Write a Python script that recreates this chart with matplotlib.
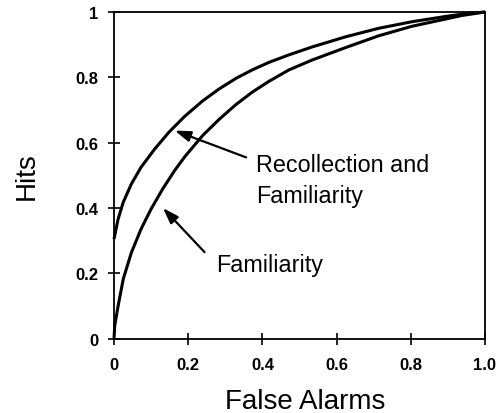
import matplotlib
matplotlib.use("Agg")
import matplotlib.pyplot as plt

plt.rcParams['font.family'] = ['Liberation Sans', 'DejaVu Sans']

# Familiarity only ROC
fam_x = [0, 0.002, 0.011, 0.025, 0.047, 0.073, 0.10, 0.131, 0.163, 0.19, 0.239,
         0.284, 0.329, 0.373, 0.418, 0.472, 0.534, 0.624, 0.713, 0.802, 0.892, 0.936, 1.0]
fam_y = [0, 0.04, 0.10, 0.183, 0.264, 0.336, 0.397, 0.458, 0.514, 0.556, 0.622,
         0.672, 0.717, 0.755, 0.788, 0.823, 0.853, 0.891, 0.927, 0.956, 0.978, 0.989, 1.0]

# Recollection and Familiarity ROC
rf_x = [0, 0.011, 0.025, 0.047, 0.073, 0.11, 0.148, 0.19, 0.239, 0.284, 0.329, 0.373,
        0.418, 0.472, 0.534, 0.624, 0.713, 0.802, 0.892, 0.936, 1.0]
rf_y = [0.305, 0.366, 0.418, 0.474, 0.525, 0.581, 0.632, 0.68, 0.728, 0.765, 0.797, 0.823,
        0.846, 0.869, 0.893, 0.924, 0.950, 0.970, 0.986, 0.993, 1.0]

x_ticks = [0, 0.2, 0.4, 0.6, 0.8, 1.0]
x_tick_labels = ["0", "0.2", "0.4", "0.6", "0.8", "1.0"]
y_ticks = [0, 0.2, 0.4, 0.6, 0.8, 1.0]
y_tick_labels = ["0", "0.2", "0.4", "0.6", "0.8", "1"]

fig = plt.figure(figsize=(5.04, 4.14), dpi=100)
ax = fig.add_axes([0.2262, 0.1795, 0.7361, 0.7891])

ax.plot(fam_x, fam_y, color='black', lw=2.2, solid_capstyle='butt',
        solid_joinstyle='round', clip_on=False)
ax.plot(rf_x, rf_y, color='black', lw=2.2, solid_capstyle='butt',
        solid_joinstyle='round', clip_on=False)

ax.set_xlim(0, 1)
ax.set_ylim(0, 1)
ax.set_xticks(x_ticks)
ax.set_xticklabels(x_tick_labels, fontweight='bold', fontsize=12)
ax.set_yticks(y_ticks)
ax.set_yticklabels(y_tick_labels, fontweight='bold', fontsize=12)
ax.tick_params(axis='both', direction='inout', length=8, width=1.2, color='black')
ax.tick_params(axis='x', pad=9)
ax.tick_params(axis='y', pad=7)
for s in ax.spines.values():
    s.set_linewidth(1.3)
    s.set_color('black')

ax.set_xlabel("False Alarms", fontsize=20)
ax.set_ylabel("Hits", fontsize=20)
ax.xaxis.set_label_coords(0.515, -0.152)
ax.yaxis.set_label_coords(-0.2, 0.5)

arrow = dict(arrowstyle='-|>,head_length=0.95,head_width=0.32', color='black',
             lw=1.6, shrinkA=0, shrinkB=0, mutation_scale=10)
ax.annotate('', xy=(0.1635, 0.637), xytext=(0.356, 0.555), arrowprops=arrow)
ax.annotate('', xy=(0.132, 0.40), xytext=(0.244, 0.265), arrowprops=arrow)

ax.text(0.383, 0.514, "Recollection and", fontsize=16.8, ha='left', va='baseline')
ax.text(0.383, 0.419, "Familiarity", fontsize=16.8, ha='left', va='baseline')
ax.text(0.274, 0.208, "Familiarity", fontsize=16.8, ha='left', va='baseline')

fig.savefig("out.png", dpi=100)
